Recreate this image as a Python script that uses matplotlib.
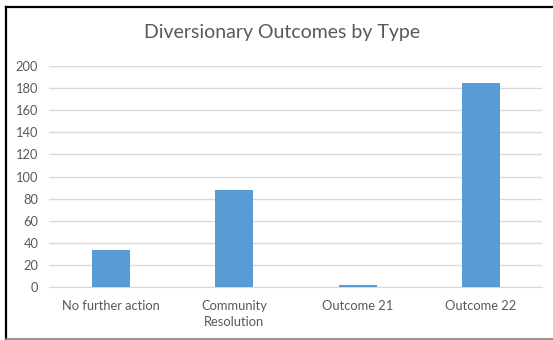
import numpy as np
import matplotlib.pyplot as plt
from matplotlib.lines import Line2D

categories = ["No further action", "Community\nResolution", "Outcome 21", "Outcome 22"]
counts = [34, 88, 2, 185]
yticks = [0, 20, 40, 60, 80, 100, 120, 140, 160, 180, 200]

plt.rcParams['font.family'] = ['Lato', 'DejaVu Sans']

W, H = 553, 340
fig = plt.figure(figsize=(W / 100, H / 100), dpi=100)
ax = fig.add_axes([0.0895, 0.155, 0.8915, 0.651])

x = np.arange(len(categories))
ax.bar(x, counts, width=0.31, color="#5b9bd5", zorder=3)

ax.set_xlim(-0.5, len(categories) - 0.5)
ax.set_ylim(0, 200)
ax.set_yticks(yticks)
ax.set_xticks(x)
ax.set_xticklabels(categories, fontsize=9.3, color="#595959", linespacing=1.45)
ax.tick_params(axis='y', labelsize=9.3, labelcolor="#595959", length=0, pad=8)
ax.tick_params(axis='x', length=0, pad=9)
ax.grid(axis='y', color="#d9d9d9", linewidth=1, zorder=0)
for side in ["left", "right", "top"]:
    ax.spines[side].set_visible(False)
ax.spines["bottom"].set_color("#d9d9d9")

fig.text(0.51, 0.905, "Diversionary Outcomes by Type", ha="center", va="center",
         fontsize=14, color="#595959")

# frame edges: dark top/left, light bottom
fig.lines.append(Line2D([5.5 / W, 1], [1 - 7 / H, 1 - 7 / H], transform=fig.transFigure,
                        color="black", linewidth=1.6))
fig.lines.append(Line2D([6 / W, 6 / W], [1 - 7 / H, 1 - 338.5 / H], transform=fig.transFigure,
                        color="black", linewidth=1.6))
fig.lines.append(Line2D([6 / W, 1], [1 - 338.5 / H, 1 - 338.5 / H], transform=fig.transFigure,
                        color="#808080", linewidth=1.2))

fig.savefig("out.png", dpi=100)
